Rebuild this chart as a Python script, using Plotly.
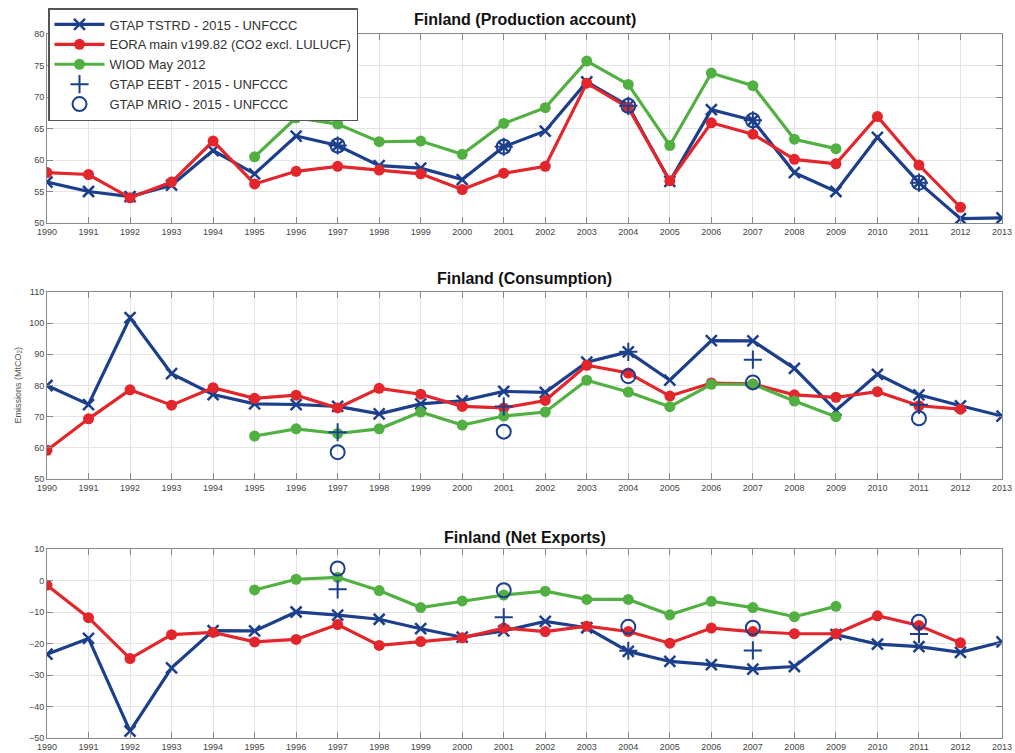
import plotly.graph_objects as go

years = list(range(1990, 2014))

# Production account
prod_tstrd = [56.5, 55.0, 54.2, 56.0, 61.5, 57.8, 63.8, 62.3, 59.1, 58.7, 56.9, 62.1, 64.6, 72.4,
              68.6, 56.6, 68.0, 66.3, 58.0, 55.0, 63.6, 56.4, 50.7, 50.8]
prod_eora = [58.0, 57.7, 54.0, 56.5, 63.0, 56.2, 58.2, 59.0, 58.4, 57.8, 55.3, 57.9, 59.0, 72.2,
             68.3, 56.7, 65.9, 64.1, 60.1, 59.4, 66.9, 59.2, 52.5, None]
prod_wiod = [None] * 5 + [60.5, 66.7, 65.7, 62.9, 63.0, 60.9, 65.8, 68.3, 75.7, 72.0, 62.3, 73.8,
                          71.8, 63.3, 61.8] + [None] * 4

# Consumption
cons_tstrd = [80.0, 73.9, 101.8, 83.8, 77.1, 74.1, 73.9, 73.3, 70.9, 74.1, 75.1, 78.1, 77.8, 87.5,
              90.8, 81.7, 94.4, 94.3, 85.5, 72.0, 83.6, 77.0, 73.5, 70.2]
cons_eora = [59.2, 69.3, 78.6, 73.7, 79.3, 75.9, 76.9, 72.8, 79.1, 77.2, 73.3, 72.8, 75.2, 86.5,
             84.0, 76.6, 80.8, 80.5, 77.0, 76.2, 78.0, 73.5, 72.4, None]
cons_wiod = [None] * 5 + [63.8, 66.1, 64.6, 66.1, 71.5, 67.3, 70.2, 71.5, 81.7, 77.9, 73.2, 80.4,
                          80.4, 75.0, 70.0] + [None] * 4

# Net exports
net_tstrd = [-23.4, -18.4, -47.8, -27.7, -15.9, -16.0, -10.0, -11.0, -12.3, -15.3, -18.0, -16.0,
             -13.0, -15.0, -22.5, -25.7, -26.7, -28.1, -27.3, -17.2, -20.2, -21.0, -22.8, -19.5]
net_eora = [-1.5, -11.8, -24.8, -17.2, -16.5, -19.5, -18.7, -14.0, -20.6, -19.4, -18.2, -15.1,
            -16.2, -14.5, -16.2, -19.9, -15.1, -16.2, -16.9, -16.9, -11.2, -14.3, -19.8, None]
net_wiod = [None] * 5 + [-3.0, 0.4, 1.0, -3.2, -8.6, -6.5, -4.6, -3.4, -6.0, -6.0, -10.9, -6.6,
                         -8.6, -11.5, -8.2] + [None] * 4

# Point estimates (GTAP EEBT / MRIO)
pt_years = [1997, 2001, 2004, 2007, 2011]
prod_eebt = [62.3, 62.1, 68.6, 66.3, 56.4]
prod_mrio = [62.3, 62.1, 68.6, 66.3, 56.4]
cons_eebt = [65.0, 73.3, 90.8, 88.3, 73.8]
cons_mrio = [58.6, 65.2, 83.0, 81.0, 69.5]
net_eebt = [-2.8, -11.7, -22.3, -22.2, -17.0]
net_mrio = [3.8, -3.1, -14.7, -15.0, -13.1]

titles = ["Finland (Production account)", "Finland (Consumption)", "Finland (Net Exports)"]
names = ["GTAP TSTRD - 2015 - UNFCCC", "EORA main v199.82 (CO2 excl. LULUCF)", "WIOD May 2012",
         "GTAP EEBT - 2015 - UNFCCC", "GTAP MRIO - 2015 - UNFCCC"]

BLUE = "#1c3f8c"
RED = "#e3262b"
GREEN = "#52b043"

W, H = 1015, 753

xl, xr = 47, 1002
panels = [  # top px, bottom px, y range, dtick
    (34, 223, [50, 80], 5),
    (292, 479, [50, 110], 10),
    (549, 738, [-50, 10], 10),
]
title_y = [20, 278, 537]

data = [
    (prod_tstrd, prod_eora, prod_wiod, prod_eebt, prod_mrio),
    (cons_tstrd, cons_eora, cons_wiod, cons_eebt, cons_mrio),
    (net_tstrd, net_eora, net_wiod, net_eebt, net_mrio),
]

fig = go.Figure()
FONT = "Liberation Sans Narrow, Liberation Sans, Arial, sans-serif"

for i, (ts, eo, wi, ee, mr) in enumerate(data):
    xa = "x" if i == 0 else f"x{i+1}"
    ya = "y" if i == 0 else f"y{i+1}"
    leg = i == 0
    fig.add_trace(go.Scatter(x=years, y=ts, mode="lines+markers", name=names[0], showlegend=leg,
                             line=dict(color=BLUE, width=3.2),
                             marker=dict(symbol="x-thin", size=11, line=dict(color=BLUE, width=2.5)),
                             xaxis=xa, yaxis=ya))
    fig.add_trace(go.Scatter(x=years, y=eo, mode="lines+markers", name=names[1], showlegend=leg,
                             line=dict(color=RED, width=3.2),
                             marker=dict(symbol="circle", size=11, color=RED),
                             xaxis=xa, yaxis=ya))
    fig.add_trace(go.Scatter(x=years, y=wi, mode="lines+markers", name=names[2], showlegend=leg,
                             line=dict(color=GREEN, width=3.2),
                             marker=dict(symbol="circle", size=11, color=GREEN),
                             xaxis=xa, yaxis=ya))
    fig.add_trace(go.Scatter(x=pt_years, y=ee, mode="markers", name=names[3], showlegend=leg,
                             marker=dict(symbol="cross-thin", size=13, line=dict(color=BLUE, width=2)),
                             xaxis=xa, yaxis=ya))
    fig.add_trace(go.Scatter(x=pt_years, y=mr, mode="markers", name=names[4], showlegend=leg,
                             marker=dict(symbol="circle-open", size=14, color=BLUE,
                                         line=dict(color=BLUE, width=2)),
                             xaxis=xa, yaxis=ya))

layout = dict(
    width=W, height=H,
    margin=dict(l=0, r=0, t=0, b=0),
    paper_bgcolor="white", plot_bgcolor="white",
    font=dict(family=FONT, color="#444"),
    showlegend=True,
    legend=dict(x=48 / W, y=1 - 8 / H, xanchor="left", yanchor="top",
                bgcolor="white", bordercolor="#555", borderwidth=1.5,
                font=dict(family="Liberation Sans, Arial, sans-serif", size=13, color="#333"),
                itemwidth=50, tracegroupgap=0),
)

annotations = []
for i, (top, bot, yr, dt) in enumerate(panels):
    sfx = "" if i == 0 else str(i + 1)
    layout["xaxis" + sfx] = dict(
        domain=[xl / W, xr / W], range=[1990, 2013], anchor="y" + sfx,
        tickmode="linear", tick0=1990, dtick=1,
        showgrid=True, gridcolor="#e4e4e4", gridwidth=1,
        showline=True, linecolor="#888", linewidth=1, mirror="ticks",
        ticks="inside", ticklen=6, tickcolor="#888",
        tickfont=dict(size=9, color="#444", family=FONT),
        zeroline=False, automargin=False, fixedrange=True,
    )
    layout["yaxis" + sfx] = dict(
        domain=[1 - bot / H, 1 - top / H], range=yr, anchor="x" + sfx,
        tickmode="linear", tick0=yr[0], dtick=dt,
        showgrid=True, gridcolor="#e4e4e4", gridwidth=1,
        showline=True, linecolor="#888", linewidth=1, mirror="ticks",
        ticks="inside", ticklen=6, tickcolor="#888",
        tickfont=dict(size=9, color="#444", family=FONT),
        zeroline=False, automargin=False, fixedrange=True,
    )
    annotations.append(dict(
        text="<b>" + titles[i] + "</b>", x=(xl + xr) / 2 / W, y=1 - title_y[i] / H,
        xref="paper", yref="paper", xanchor="center", yanchor="middle", showarrow=False,
        font=dict(size=16, color="#111", family=FONT)))

annotations.append(dict(
    text="Emissions (MtCO<sub>2</sub>)", x=18 / W, y=1 - 385.5 / H, xref="paper", yref="paper",
    xanchor="center", yanchor="middle", textangle=-90, showarrow=False,
    font=dict(size=9, color="#555", family="Liberation Sans, Arial, sans-serif")))
layout["annotations"] = annotations

fig.update_layout(**layout)
fig.write_html(
    "out.html",
    config={"displayModeBar": False},
    post_script="document.body.style.margin='0';document.body.style.overflow='hidden';",
)
